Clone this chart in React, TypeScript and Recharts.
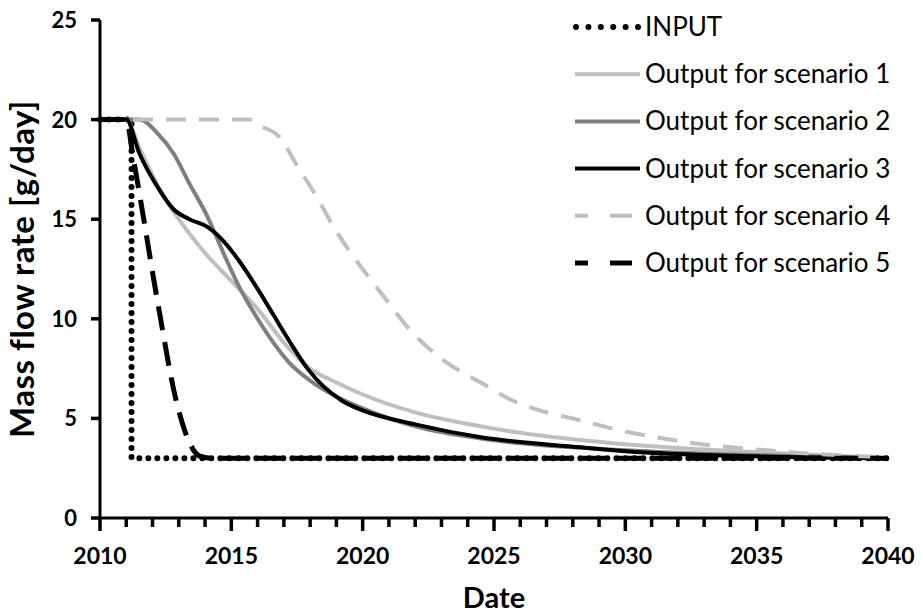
import React from 'react';
import { LineChart, Line, XAxis, YAxis, Legend, Label } from 'recharts';

const yearTicks = [
  2010, 2011, 2012, 2013, 2014, 2015, 2016, 2017, 2018, 2019, 2020,
  2021, 2022, 2023, 2024, 2025, 2026, 2027, 2028, 2029, 2030,
  2031, 2032, 2033, 2034, 2035, 2036, 2037, 2038, 2039, 2040,
];
const valueTicks = [0, 5, 10, 15, 20, 25];

const seriesNames = [
  'INPUT',
  'Output for scenario 1',
  'Output for scenario 2',
  'Output for scenario 3',
  'Output for scenario 4',
  'Output for scenario 5',
];

const inputYears = [2010, 2011.2, 2011.2, 2040];
const inputValues = [20, 20, 3, 3];

const sc1Years = [2010, 2011, 2011.5, 2012, 2012.5, 2013, 2014, 2015, 2016, 2017, 2018, 2019, 2020, 2022, 2024.5, 2027, 2030, 2035, 2040];
const sc1Values = [20, 20, 18.6, 17.2, 16.0, 15.0, 13.3, 11.9, 10.5, 8.8, 7.5, 6.8, 6.2, 5.3, 4.6, 4.1, 3.7, 3.3, 3.0];

const sc2Years = [2010, 2011.5, 2012.2, 2012.8, 2013.4, 2014.1, 2014.7, 2015.3, 2016, 2016.6, 2017.2, 2018, 2019, 2020, 2022, 2025, 2030, 2035, 2040];
const sc2Values = [20, 20, 19.3, 18.3, 16.8, 15.1, 13.3, 11.6, 10.0, 8.8, 7.8, 6.9, 6.1, 5.5, 4.6, 3.9, 3.4, 3.15, 3.0];

const sc3Years = [2010, 2011, 2011.5, 2012.2, 2012.8, 2013.4, 2014.1, 2014.7, 2015.3, 2016, 2016.6, 2017.2, 2017.9, 2019.2, 2020, 2022, 2024.5, 2028.3, 2030, 2035, 2040];
const sc3Values = [20, 20, 18.3, 16.6, 15.5, 15.0, 14.6, 13.9, 12.9, 11.5, 10.2, 8.9, 7.5, 5.9, 5.4, 4.7, 4.05, 3.55, 3.35, 3.1, 3.0];

const sc4Years = [2010, 2015.7, 2016.0, 2016.85, 2017.5, 2018.26, 2018.9, 2019.5, 2020.7, 2021.9, 2023.2, 2024.5, 2025.7, 2027, 2028.3, 2029.8, 2031.2, 2032.6, 2034, 2035.4, 2036.8, 2038.2, 2040];
const sc4Values = [20, 20, 19.75, 19.1, 17.7, 16.1, 14.6, 13.4, 11.3, 9.3, 7.8, 6.8, 5.9, 5.3, 4.9, 4.4, 4.05, 3.75, 3.55, 3.4, 3.25, 3.15, 3.05];

const sc5Years = [2010, 2011, 2011.25, 2011.5, 2012.2, 2012.9, 2013.4, 2013.8, 2014.3, 2040];
const sc5Values = [20, 20, 18.2, 16.3, 10.8, 5.9, 3.8, 3.1, 3.0, 3.0];

const toPoints = (years: number[], values: number[]) =>
  years.map((year, i) => ({ year, value: values[i] }));

const seriesData = [
  toPoints(inputYears, inputValues),
  toPoints(sc1Years, sc1Values),
  toPoints(sc2Years, sc2Values),
  toPoints(sc3Years, sc3Values),
  toPoints(sc4Years, sc4Values),
  toPoints(sc5Years, sc5Values),
];

// line look per series, same order as seriesNames
const seriesStyles = [
  { stroke: '#000000', width: 6, dash: '0 9', cap: 'round', type: 'linear', legendDash: '0 12.4' },
  { stroke: '#bfbfbf', width: 4, dash: undefined, cap: 'butt', type: 'monotone', legendDash: undefined },
  { stroke: '#7f7f7f', width: 4, dash: undefined, cap: 'butt', type: 'monotone', legendDash: undefined },
  { stroke: '#000000', width: 4, dash: undefined, cap: 'butt', type: 'monotone', legendDash: undefined },
  { stroke: '#bfbfbf', width: 4, dash: '20 13', cap: 'butt', type: 'monotone', legendDash: '13 22 22 99' },
  { stroke: '#000000', width: 5, dash: '24 12', cap: 'butt', type: 'monotone', legendDash: '13 22 22 99' },
];

const FONT = 'Lato, "Open Sans", sans-serif';

// tick marks drawn here, from the axis line down
const XTick = ({ x, payload }: any) => {
  const major = payload.value % 5 === 0;
  const axisY = 518;
  return (
    <g>
      <line x1={x} x2={x} y1={axisY} y2={axisY + (major ? 13 : 9)} stroke="#000" strokeWidth={3.5} />
      {major && (
        <text x={x} y={axisY + 46} textAnchor="middle" fontFamily={FONT} fontWeight={700} fontSize={23} fill="#000">
          {payload.value}
        </text>
      )}
    </g>
  );
};

const YTick = ({ y, payload }: any) => (
  <g>
    <line x1={91} x2={100} y1={y} y2={y} stroke="#000" strokeWidth={3.5} />
    <text x={77} y={y + 8} textAnchor="end" fontFamily={FONT} fontWeight={700} fontSize={22} fill="#000">
      {payload.value}
    </text>
  </g>
);

const LegendContent = () => (
  <svg width={345} height={290}>
    {seriesNames.map((name, i) => {
      const s = seriesStyles[i];
      const cy = 23 + i * 47.2;
      return (
        <g key={name}>
          <line
            x1={i === 0 ? 4 : 3}
            x2={i === 0 ? 67 : 68}
            y1={cy}
            y2={cy}
            stroke={s.stroke}
            strokeWidth={s.width}
            strokeDasharray={s.legendDash}
            strokeLinecap={s.cap as any}
          />
          <text x={73} y={cy + 9} fontFamily={FONT} fontSize={26} fill="#000">
            {name}
          </text>
        </g>
      );
    })}
  </svg>
);

export default function App() {
  return (
    <div style={{ position: 'absolute', left: 0, top: 0, width: 921, height: 614, background: '#fff' }}>
      <LineChart width={921} height={614} margin={{ top: 20, right: 33, bottom: 0, left: 0 }}>
        <XAxis
          type="number"
          dataKey="year"
          domain={[2010, 2040]}
          ticks={yearTicks}
          interval={0}
          height={96}
          tickLine={false}
          axisLine={{ stroke: '#000', strokeWidth: 3 }}
          tick={<XTick />}
        >
          <Label
            content={({ viewBox }: any) => (
              <text
                x={viewBox.x + viewBox.width / 2}
                y={viewBox.y + 90}
                textAnchor="middle"
                fontFamily={FONT}
                fontWeight={700}
                fontSize={29}
                fill="#000"
              >
                Date
              </text>
            )}
          />
        </XAxis>
        <YAxis
          type="number"
          domain={[0, 25]}
          ticks={valueTicks}
          width={100}
          tickLine={false}
          axisLine={{ stroke: '#000', strokeWidth: 3 }}
          tick={<YTick />}
        >
          <Label
            content={({ viewBox }: any) => {
              const cx = 34;
              const cy = viewBox.y + viewBox.height / 2;
              return (
                <text
                  x={cx}
                  y={cy}
                  transform={`rotate(-90, ${cx}, ${cy})`}
                  textAnchor="middle"
                  fontFamily={FONT}
                  fontWeight={700}
                  fontSize={33}
                  letterSpacing={0.5}
                  fill="#000"
                >
                  Mass flow rate [g/day]
                </text>
              );
            }}
          />
        </YAxis>
        <Legend
          layout="vertical"
          align="center"
          verticalAlign="middle"
          content={<LegendContent />}
          wrapperStyle={{ left: 572, top: 4, width: 345 }}
        />
        {seriesData.map((data, i) => {
          const s = seriesStyles[i];
          return (
            <Line
              key={seriesNames[i]}
              data={data}
              dataKey="value"
              name={seriesNames[i]}
              type={s.type as any}
              stroke={s.stroke}
              strokeWidth={s.width}
              strokeDasharray={s.dash}
              strokeLinecap={s.cap as any}
              dot={false}
              activeDot={false}
              isAnimationActive={false}
            />
          );
        })}
      </LineChart>
    </div>
  );
}
